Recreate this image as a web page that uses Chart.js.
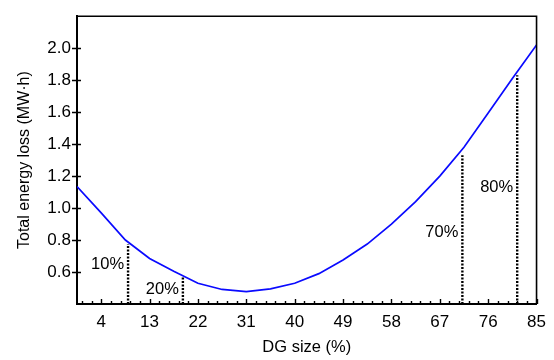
<!DOCTYPE html>
<html>
<head>
<meta charset="utf-8">
<script src="https://cdn.jsdelivr.net/npm/chart.js@4.4.1/dist/chart.umd.min.js"></script>
<style>
  html, body { margin: 0; padding: 0; background: #fff; }
  #wrap { width: 554px; height: 360px; }
</style>
</head>
<body>
<div id="wrap"><canvas id="loss_graph" width="554" height="360"></canvas></div>
<script>
// DG size (%) and total energy loss
var dgSize = [-0.5, 4, 8.5, 13, 17.5, 22, 26.5, 31, 35.5, 40, 44.5, 49, 53.5, 58, 62.5, 67, 71.5, 76, 80.5, 85];
var lossValues = [1.135, 0.97, 0.80, 0.685, 0.605, 0.53, 0.491, 0.478, 0.495, 0.53, 0.59, 0.675, 0.775, 0.90, 1.04, 1.20, 1.38, 1.595, 1.81, 2.02];

// dotted markers (penetration levels)
var markerText = ['10%', '20%', '70%', '80%'];
var markerX = [9.0, 19.2, 71.2, 81.4];
var markerTop = [0.775, 0.569, 1.33, 1.83];
var markerLabelY = [0.65, 0.49, 0.85, 1.13];

// axis ticks
var xTicks = [4, 13, 22, 31, 40, 49, 58, 67, 76, 85];
var xMinorTicks = [0.4, 2.2, 5.8, 7.6, 9.4, 11.2, 14.8, 16.6, 18.4, 20.2, 23.8, 25.6, 27.4, 29.2, 32.8, 34.6, 36.4, 38.2,
                   41.8, 43.6, 45.4, 47.2, 50.8, 52.6, 54.4, 56.2, 59.8, 61.6, 63.4, 65.2, 68.8, 70.6, 72.4, 74.2,
                   77.8, 79.6, 81.4, 83.2];
var yTicks = [0.6, 0.8, 1.0, 1.2, 1.4, 1.6, 1.8, 2.0];

var black = '#000';
var blue = '#0a0aff';
var fontFamily = '"Liberation Sans", Arial, sans-serif';

var points = dgSize.map(function(v, i){ return {x: v, y: lossValues[i]}; });

var datasets = [{
    label: 'Total energy loss',
    data: points,
    borderColor: blue,
    borderWidth: 1.7,
    pointRadius: 0,
    tension: 0,
    fill: false,
    order: 1
}];

for (var i = 0; i < markerX.length; i++) {
    datasets.push({
        label: markerText[i],
        data: [{x: markerX[i], y: 0.4}, {x: markerX[i], y: markerTop[i]}],
        borderColor: black,
        borderWidth: 2.4,
        borderDash: [2, 1.5],
        pointRadius: 0,
        fill: false,
        order: 2
    });
}

var frameAndTicks = {
    id: 'frameAndTicks',
    afterDatasetsDraw: function(chart){
        var ctx = chart.ctx;
        var a = chart.chartArea;
        var xs = chart.scales.x;
        var ys = chart.scales.y;
        ctx.save();
        ctx.strokeStyle = black;

        // top and right frame
        ctx.lineWidth = 1.6;
        ctx.beginPath();
        ctx.moveTo(a.left, a.top);
        ctx.lineTo(a.right, a.top);
        ctx.lineTo(a.right, a.bottom);
        ctx.stroke();

        // x ticks, pointing up
        ctx.lineWidth = 1.4;
        ctx.beginPath();
        xTicks.forEach(function(v){
            var px = Math.round(xs.getPixelForValue(v)) + 0.5;
            ctx.moveTo(px, a.bottom);
            ctx.lineTo(px, a.bottom - 5);
        });
        xMinorTicks.forEach(function(v){
            var px = Math.round(xs.getPixelForValue(v)) + 0.5;
            ctx.moveTo(px, a.bottom);
            ctx.lineTo(px, a.bottom - 3);
        });
        ctx.stroke();

        // y ticks, crossing the axis
        ctx.beginPath();
        yTicks.forEach(function(v){
            var py = Math.round(ys.getPixelForValue(v)) + 0.5;
            ctx.moveTo(a.left - 5, py);
            ctx.lineTo(a.left + 4, py);
        });
        ctx.stroke();

        // percentage labels next to the dotted lines
        ctx.fillStyle = black;
        ctx.font = '16.5px ' + fontFamily;
        ctx.textAlign = 'right';
        ctx.textBaseline = 'middle';
        for (var i = 0; i < markerText.length; i++) {
            ctx.fillText(markerText[i], xs.getPixelForValue(markerX[i]) - 4, ys.getPixelForValue(markerLabelY[i]));
        }
        ctx.restore();
    }
};

var ctx = document.getElementById('loss_graph').getContext('2d');
var chart = new Chart(ctx, {
    type: 'line',
    data: { datasets: datasets },
    options: {
        responsive: false,
        maintainAspectRatio: false,
        animation: false,
        devicePixelRatio: 1,
        layout: { padding: { left: 0, right: 14, top: 12, bottom: 0 } },
        plugins: {
            legend: { display: false },
            tooltip: { enabled: false }
        },
        scales: {
            x: {
                type: 'linear',
                min: -0.5,
                max: 85,
                afterBuildTicks: function(scale){
                    scale.ticks = xTicks.map(function(v){ return {value: v}; });
                },
                afterFit: function(scale){ scale.height = 56; },
                grid: { display: false, drawTicks: false },
                border: { display: true, color: black, width: 2 },
                ticks: {
                    autoSkip: false,
                    maxRotation: 0,
                    padding: 8,
                    color: black,
                    font: { family: fontFamily, size: 17 }
                },
                title: {
                    display: true,
                    text: 'DG size (%)',
                    color: black,
                    font: { family: fontFamily, size: 16.5 },
                    padding: { top: 0, bottom: 3 }
                }
            },
            y: {
                min: 0.4,
                max: 2.2,
                afterBuildTicks: function(scale){
                    scale.ticks = yTicks.map(function(v){ return {value: v}; });
                },
                afterFit: function(scale){ scale.width = 77; },
                grid: { display: false, drawTicks: false },
                border: { display: true, color: black, width: 2 },
                ticks: {
                    padding: 6,
                    color: black,
                    font: { family: fontFamily, size: 17 },
                    callback: function(v){ return Number(v).toFixed(1); }
                },
                title: {
                    display: true,
                    text: 'Total energy loss (MW·h)',
                    color: black,
                    font: { family: fontFamily, size: 16 },
                    padding: { top: 15, bottom: 0 }
                }
            }
        }
    },
    plugins: [frameAndTicks]
});
</script>
</body>
</html>
